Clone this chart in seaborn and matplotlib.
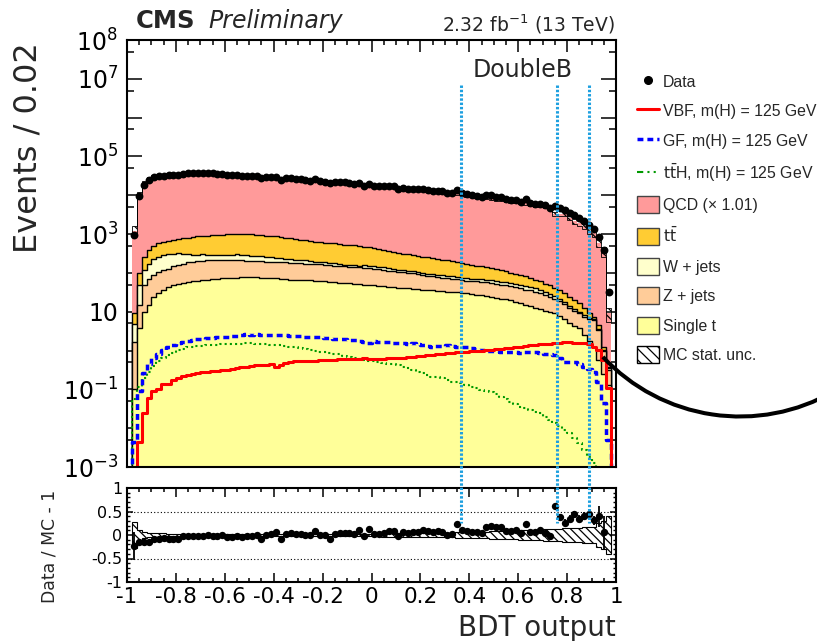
import numpy as np
import pandas as pd
import matplotlib
matplotlib.use("Agg")
import matplotlib.pyplot as plt
import matplotlib.transforms as mtransforms
from matplotlib.lines import Line2D
from matplotlib.patches import Patch, Arc
from matplotlib.ticker import FixedLocator, FixedFormatter, MultipleLocator, NullFormatter, FuncFormatter
import seaborn as sns

nan = np.nan

# ---------------- data ----------------
# binning of the BDT output: 100 bins of width 0.02 in [-1, 1]
n_bins = 100
bdt_range = (-1.0, 1.0)
bin_edges = np.round(np.linspace(bdt_range[0], bdt_range[1], n_bins + 1), 3)

# log10 of the top of each stacked layer (Single t at bottom, QCD on top = total MC)
log_top_qcd = [nan, 3.09, 4.05, 4.33, 4.46, 4.50, 4.52, 4.54, 4.55, 4.56,
               4.57, 4.57, 4.58, 4.58, 4.58, 4.57, 4.57, 4.57, 4.56, 4.56,
               4.55, 4.54, 4.53, 4.52, 4.51, 4.50, 4.49, 4.48, 4.47, 4.46,
               4.45, 4.44, 4.43, 4.42, 4.41, 4.40, 4.39, 4.38, 4.37, 4.36,
               4.35, 4.34, 4.33, 4.32, 4.31, 4.30, 4.29, 4.27, 4.26, 4.24,
               4.23, 4.22, 4.21, 4.20, 4.19, 4.17, 4.16, 4.15, 4.14, 4.13,
               4.12, 4.11, 4.09, 4.08, 4.07, 4.06, 4.05, 4.03, 4.01, 3.99,
               3.98, 3.96, 3.95, 3.93, 3.92, 3.90, 3.89, 3.87, 3.85, 3.83,
               3.82, 3.80, 3.78, 3.76, 3.74, 3.72, 3.69, 3.52, 3.53, 3.52,
               3.42, 3.33, 3.29, 3.20, 3.08, 3.02, 2.78, 2.56, 0.96, nan]
log_top_tt = [nan, 0.96, 1.99, 2.42, 2.59, 2.69, 2.76, 2.79, 2.82, 2.85,
              2.87, 2.89, 2.91, 2.92, 2.94, 2.95, 2.96, 2.97, 2.98, 2.98,
              2.99, 2.99, 3.00, 3.00, 2.99, 2.99, 2.98, 2.97, 2.96, 2.95,
              2.94, 2.92, 2.91, 2.89, 2.88, 2.86, 2.84, 2.82, 2.80, 2.79,
              2.78, 2.77, 2.76, 2.75, 2.73, 2.72, 2.71, 2.69, 2.68, 2.66,
              2.64, 2.62, 2.60, 2.57, 2.55, 2.52, 2.50, 2.48, 2.46, 2.44,
              2.42, 2.40, 2.38, 2.36, 2.34, 2.32, 2.30, 2.28, 2.26, 2.23,
              2.21, 2.19, 2.17, 2.15, 2.12, 2.10, 2.07, 2.04, 2.01, 1.98,
              1.95, 1.91, 1.87, 1.82, 1.78, 1.72, 1.68, 1.62, 1.55, 1.47,
              1.39, 1.30, 1.22, 1.09, 0.98, 0.87, 0.66, 0.10, -0.42, nan]
log_top_w = [nan, 0.68, 1.69, 2.08, 2.24, 2.36, 2.42, 2.45, 2.48, 2.50,
             2.51, 2.50, 2.49, 2.47, 2.47, 2.48, 2.46, 2.47, 2.46, 2.47,
             2.46, 2.47, 2.48, 2.47, 2.47, 2.44, 2.43, 2.43, 2.41, 2.40,
             2.39, 2.38, 2.36, 2.35, 2.34, 2.33, 2.32, 2.30, 2.29, 2.28,
             2.27, 2.26, 2.25, 2.23, 2.21, 2.20, 2.20, 2.19, 2.20, 2.19,
             2.17, 2.15, 2.14, 2.12, 2.10, 2.08, 2.07, 2.05, 2.04, 2.02,
             2.00, 1.98, 1.96, 1.95, 1.94, 1.93, 1.91, 1.90, 1.88, 1.86,
             1.85, 1.84, 1.84, 1.83, 1.81, 1.79, 1.77, 1.76, 1.73, 1.71,
             1.69, 1.66, 1.63, 1.60, 1.56, 1.51, 1.45, 1.40, 1.33, 1.25,
             1.15, 1.08, 1.00, 0.92, 0.85, 0.80, 0.55, 0.02, -0.46, nan]
log_top_z = [nan, 0.23, 1.17, 1.69, 1.85, 1.94, 2.02, 2.07, 2.11, 2.17,
             2.21, 2.24, 2.27, 2.29, 2.30, 2.31, 2.32, 2.32, 2.33, 2.33,
             2.33, 2.33, 2.32, 2.32, 2.31, 2.31, 2.30, 2.30, 2.29, 2.29,
             2.29, 2.28, 2.27, 2.26, 2.25, 2.25, 2.24, 2.23, 2.22, 2.22,
             2.21, 2.20, 2.19, 2.18, 2.17, 2.16, 2.15, 2.14, 2.13, 2.12,
             2.10, 2.09, 2.08, 2.06, 2.05, 2.03, 2.02, 2.00, 1.99, 1.97,
             1.95, 1.93, 1.91, 1.90, 1.88, 1.87, 1.85, 1.84, 1.82, 1.80,
             1.79, 1.78, 1.77, 1.76, 1.74, 1.72, 1.70, 1.68, 1.66, 1.63,
             1.60, 1.57, 1.55, 1.52, 1.47, 1.42, 1.38, 1.33, 1.28, 1.20,
             1.09, 1.03, 0.96, 0.87, 0.82, 0.78, 0.52, 0.00, -0.50, nan]
log_top_single_t = [nan, -0.99, 0.58, 1.00, 1.17, 1.39, 1.48, 1.56, 1.63, 1.68,
                    1.72, 1.74, 1.76, 1.78, 1.80, 1.82, 1.83, 1.84, 1.85, 1.86,
                    1.87, 1.88, 1.88, 1.89, 1.89, 1.89, 1.89, 1.88, 1.88, 1.87,
                    1.86, 1.85, 1.84, 1.83, 1.82, 1.82, 1.81, 1.81, 1.80, 1.79,
                    1.78, 1.77, 1.76, 1.75, 1.74, 1.73, 1.72, 1.71, 1.70, 1.69,
                    1.68, 1.67, 1.66, 1.64, 1.63, 1.62, 1.61, 1.60, 1.59, 1.58,
                    1.57, 1.56, 1.56, 1.54, 1.53, 1.52, 1.51, 1.50, 1.48, 1.47,
                    1.45, 1.44, 1.42, 1.40, 1.38, 1.36, 1.34, 1.32, 1.29, 1.26,
                    1.22, 1.18, 1.14, 1.09, 1.06, 1.03, 1.00, 0.96, 0.90, 0.80,
                    0.70, 0.64, 0.58, 0.40, 0.25, 0.10, -0.24, -0.60, -0.90, nan]

# signal shapes (log10 of events per bin)
log_vbf = [nan, nan, -2.35, -1.62, -1.23, -1.05, -0.98, -0.85, -0.85, -0.75,
           -0.72, -0.66, -0.64, -0.60, -0.58, -0.56, -0.55, -0.53, -0.52, -0.50,
           -0.50, -0.48, -0.45, -0.42, -0.42, -0.40, -0.38, -0.37, -0.36, -0.35,
           -0.42, -0.36, -0.33, -0.30, -0.27, -0.28, -0.26, -0.27, -0.26, -0.25,
           -0.25, -0.24, -0.24, -0.23, -0.23, -0.22, -0.22, -0.21, -0.20, -0.23,
           -0.22, -0.21, -0.21, -0.20, -0.20, -0.19, -0.18, -0.17, -0.16, -0.15,
           -0.14, -0.12, -0.11, -0.10, -0.08, -0.07, -0.06, -0.05, -0.04, -0.03,
           -0.02, -0.01, 0.00, 0.01, 0.02, 0.03, 0.05, 0.06, 0.07, 0.08,
           0.10, 0.12, 0.13, 0.15, 0.16, 0.17, 0.18, 0.20, 0.20, 0.21,
           0.21, 0.20, 0.20, 0.20, 0.17, 0.10, 0.01, -0.24, -0.97, nan]
log_gf = [nan, -2.35, -1.05, -0.59, -0.35, -0.20, -0.09, 0.01, 0.08, 0.14,
          0.19, 0.22, 0.24, 0.27, 0.29, 0.31, 0.32, 0.33, 0.34, 0.35,
          0.36, 0.37, 0.38, 0.39, 0.42, 0.41, 0.42, 0.41, 0.41, 0.40,
          0.40, 0.40, 0.39, 0.38, 0.37, 0.37, 0.36, 0.35, 0.34, 0.34,
          0.33, 0.33, 0.31, 0.30, 0.29, 0.27, 0.26, 0.24, 0.23, 0.19,
          0.24, 0.22, 0.22, 0.21, 0.20, 0.19, 0.19, 0.18, 0.19, 0.16,
          0.14, 0.12, 0.10, 0.11, 0.12, 0.13, 0.11, 0.09, 0.08, 0.08,
          0.06, 0.04, 0.02, 0.00, -0.01, -0.02, -0.03, -0.04, -0.05, -0.05,
          -0.06, -0.05, -0.04, -0.05, -0.06, -0.08, -0.10, -0.11, -0.20, -0.29,
          -0.29, -0.30, -0.35, -0.42, -0.48, -0.54, -0.80, -1.35, -2.30, nan]
log_tth = [nan, -1.25, -0.93, -0.71, -0.54, -0.40, -0.28, -0.20, -0.11, -0.06,
           0.01, 0.04, 0.08, 0.09, 0.11, 0.12, 0.13, 0.14, 0.15, 0.16,
           0.16, 0.17, 0.18, 0.18, 0.19, 0.19, 0.18, 0.17, 0.16, 0.15,
           0.14, 0.14, 0.12, 0.10, 0.08, 0.06, 0.04, 0.02, -0.01, -0.03,
           -0.04, -0.06, -0.08, -0.10, -0.13, -0.16, -0.18, -0.21, -0.24, -0.26,
           -0.28, -0.30, -0.32, -0.34, -0.35, -0.37, -0.42, -0.46, -0.50, -0.54,
           -0.58, -0.62, -0.67, -0.69, -0.71, -0.76, -0.80, -0.82, -0.84, -0.89,
           -0.93, -0.97, -1.02, -1.05, -1.08, -1.12, -1.19, -1.26, -1.32, -1.38,
           -1.45, -1.49, -1.53, -1.58, -1.62, -1.70, -1.78, -1.87, -1.95, -2.05,
           -2.13, -2.26, -2.39, -2.55, -2.73, -2.90, -3.05, -3.05, -3.05, nan]

# Data / MC - 1 per bin and its error bar
ratio = [nan, -0.24, -0.15, -0.14, -0.15, -0.08, -0.08, -0.07, -0.08, -0.09,
         -0.09, -0.03, -0.02, -0.02, -0.03, -0.02, -0.01, -0.02, -0.02, -0.01,
         -0.04, -0.04, -0.03, -0.04, -0.02, -0.03, -0.01, -0.09, 0.01, 0.03,
         0.06, -0.08, 0.03, 0.04, 0.03, 0.02, 0.01, 0.00, 0.09, 0.01,
         0.00, -0.08, 0.03, 0.04, 0.05, 0.04, 0.02, 0.11, -0.02, 0.13,
         0.03, 0.02, 0.04, 0.09, 0.09, -0.03, 0.06, 0.05, 0.06, 0.06,
         0.11, 0.08, 0.07, 0.08, 0.07, 0.01, 0.02, 0.24, 0.10, 0.09,
         0.07, 0.06, 0.04, 0.18, 0.20, 0.16, 0.16, 0.08, 0.09, 0.10,
         0.04, 0.24, 0.06, 0.06, 0.11, 0.04, -0.03, 0.61, 0.38, 0.26,
         0.35, 0.44, 0.35, 0.40, 0.45, 0.31, 0.40, 0.06, 2.60, nan]
ratio_err = [0, 0.30, 0.03, 0.02, 0.02, 0.01, 0.01, 0.01, 0.01, 0.01,
             0.01, 0.01, 0.01, 0.01, 0.01, 0.01, 0.01, 0.01, 0.01, 0.01,
             0.01, 0.01, 0.01, 0.01, 0.01, 0.01, 0.01, 0.01, 0.01, 0.01,
             0.01, 0.01, 0.01, 0.01, 0.01, 0.01, 0.01, 0.01, 0.01, 0.01,
             0.01, 0.01, 0.01, 0.01, 0.01, 0.01, 0.01, 0.01, 0.01, 0.01,
             0.01, 0.01, 0.01, 0.01, 0.01, 0.01, 0.01, 0.01, 0.01, 0.01,
             0.01, 0.01, 0.01, 0.01, 0.01, 0.01, 0.01, 0.02, 0.02, 0.02,
             0.02, 0.02, 0.02, 0.02, 0.02, 0.02, 0.02, 0.02, 0.02, 0.02,
             0.03, 0.03, 0.03, 0.03, 0.03, 0.03, 0.04, 0.05, 0.07, 0.07,
             0.07, 0.07, 0.08, 0.08, 0.08, 0.10, 0.22, 0.35, 0.50, 0]
# relative MC statistical uncertainty per bin
mc_stat_rel = [0, 0.28, 0.10, 0.06, 0.05, 0.04, 0.035, 0.035, 0.03, 0.03,
               0.025, 0.025, 0.025, 0.025, 0.025, 0.025, 0.025, 0.025, 0.025, 0.025,
               0.025, 0.025, 0.025, 0.025, 0.025, 0.025, 0.025, 0.025, 0.025, 0.025,
               0.03, 0.03, 0.03, 0.03, 0.03, 0.03, 0.03, 0.03, 0.03, 0.03,
               0.03, 0.03, 0.03, 0.03, 0.03, 0.03, 0.03, 0.03, 0.03, 0.03,
               0.03, 0.03, 0.035, 0.035, 0.035, 0.035, 0.035, 0.035, 0.04, 0.04,
               0.04, 0.04, 0.045, 0.045, 0.05, 0.05, 0.05, 0.055, 0.055, 0.06,
               0.06, 0.065, 0.07, 0.07, 0.075, 0.08, 0.08, 0.085, 0.09, 0.09,
               0.10, 0.10, 0.10, 0.11, 0.11, 0.12, 0.12, 0.13, 0.13, 0.14,
               0.14, 0.15, 0.15, 0.16, 0.17, 0.18, 0.25, 0.30, 0.40, 0]

cut_values = [0.365, 0.76, 0.89]

legend_labels = ["Data", "VBF, m(H) = 125 GeV", "GF, m(H) = 125 GeV",
                 r"$\mathrm{t\bar{t}}$H, m(H) = 125 GeV", "QCD (\u00d7 1.01)",
                 r"$\mathrm{t\bar{t}}$", "W + jets", "Z + jets", "Single t", "MC stat. unc."]

# ---------------- derived quantities ----------------
def lin(a):
    return np.nan_to_num(10.0 ** np.asarray(a, dtype=float), nan=0.0)

single_t = lin(log_top_single_t)
z_jets = lin(log_top_z) - lin(log_top_single_t)
w_jets = lin(log_top_w) - lin(log_top_z)
ttbar = lin(log_top_tt) - lin(log_top_w)
qcd = lin(log_top_qcd) - lin(log_top_tt)
stack = np.cumsum(np.vstack([single_t, z_jets, w_jets, ttbar, qcd]), axis=0)
mc_total = stack[-1]

vbf = lin(log_vbf)
gf = lin(log_gf)
tth = lin(log_tth)

ratio_arr = np.asarray(ratio, dtype=float)
data = mc_total * (1.0 + ratio_arr)
rel = np.asarray(mc_stat_rel, dtype=float)
centers = 0.5 * (bin_edges[:-1] + bin_edges[1:])

# ---------------- style ----------------
sns.set_style("ticks")
plt.rcParams["font.family"] = ["DejaVu Sans"]
plt.rcParams["axes.unicode_minus"] = False
plt.rcParams["hatch.linewidth"] = 0.9
plt.rcParams["axes.edgecolor"] = "black"

c_qcd = "#ff9a9a"
c_tt = "#ffcc33"
c_w = "#ffffcc"
c_z = "#ffcc99"
c_st = "#ffff99"
c_vbf = "#ff0000"
c_gf = "#0000ff"
c_tth = "#009900"
c_cut = "#1ea0e0"

W, H = 817.0, 641.0
fig = plt.figure(figsize=(W / 100, H / 100), dpi=100)
ax = fig.add_axes([127 / W, 1 - 467 / H, 489 / W, 427 / H])
axr = fig.add_axes([127 / W, 1 - 582 / H, 489 / W, 94 / H])

ax.set_yscale("log")


def step_hist(vals, **kws):
    df = pd.DataFrame({"bdt": centers, "events": vals})
    sns.histplot(data=df, x="bdt", weights="events", bins=n_bins, binrange=bdt_range,
                 element="step", ax=ax, **kws)


# stacked backgrounds (drawn from the total down to the bottom layer)
layers = [(stack[4], c_qcd, 0.0), (stack[3], c_tt, 1.0), (stack[2], c_w, 1.0),
          (stack[1], c_z, 1.0), (stack[0], c_st, 1.0)]
for vals, col, lw in layers:
    step_hist(vals, fill=True, color=col, alpha=1.0, edgecolor="black", linewidth=lw)

# MC stat band on the total
sl = slice(1, 99)
ax.stairs(mc_total[sl] * (1 + rel[sl]), bin_edges[1:100], baseline=mc_total[sl] * (1 - rel[sl]),
          fill=True, facecolor="none", edgecolor="black", hatch="\\\\\\\\", linewidth=0.6, zorder=3)

# signals
step_hist(tth, fill=False, color=c_tth, linewidth=1.5, linestyle=(0, (1, 1.5)))
step_hist(gf, fill=False, color=c_gf, linewidth=2.5, linestyle=(0, (1.7, 1.15)))
step_hist(vbf, fill=False, color=c_vbf, linewidth=2.2)

# data
sns.scatterplot(x=centers, y=data, color="black", s=32, linewidth=0, ax=ax, zorder=6)

ax.set_xlim(-1, 1)
ax.set_ylim(1e-3, 1e8)
ax.set_xlabel("")
ax.set_ylabel("")

exps = np.arange(-3, 9)
ylabels = {-3: r"$10^{-3}$", -1: r"$10^{-1}$", 1: "10", 3: r"$10^{3}$",
           5: r"$10^{5}$", 7: r"$10^{7}$", 8: r"$10^{8}$"}
ax.yaxis.set_major_locator(FixedLocator(10.0 ** exps))
ax.yaxis.set_major_formatter(FixedFormatter([ylabels.get(int(e), "") for e in exps]))
ax.yaxis.set_minor_locator(FixedLocator(5 * 10.0 ** np.arange(-3, 8)))
ax.yaxis.set_minor_formatter(NullFormatter())
ax.xaxis.set_major_locator(MultipleLocator(0.2))
ax.xaxis.set_minor_locator(MultipleLocator(0.05))
ax.tick_params(axis="both", which="both", direction="in", top=True, right=True,
               labelbottom=False, colors="black")
ax.tick_params(axis="y", which="major", length=10.8, width=1.1, pad=6.5, labelsize=17)
ax.tick_params(axis="y", which="minor", length=5, width=1.1)
ax.tick_params(axis="x", which="major", length=8.6, width=1.1)
ax.tick_params(axis="x", which="minor", length=3.6, width=1.1)

# ratio panel
axr.stairs(rel[sl], bin_edges[1:100], baseline=-rel[sl], fill=True, facecolor="none",
           edgecolor="black", hatch="\\\\\\\\", linewidth=0.8, zorder=2)
axr.axhline(0.5, color="black", linestyle=(0, (1, 2)), linewidth=0.8)
axr.axhline(-0.5, color="black", linestyle=(0, (1, 2)), linewidth=0.8)
axr.errorbar(centers, ratio_arr, yerr=np.asarray(ratio_err, dtype=float), fmt="none",
             ecolor="black", elinewidth=1.3, capsize=0, zorder=4)
sns.scatterplot(x=centers, y=ratio_arr, color="black", s=28, linewidth=0, ax=axr, zorder=5)
axr.set_xlim(-1, 1)
axr.set_ylim(-1, 1)
axr.set_xlabel("")
axr.set_ylabel("")


def fmt(v, pos):
    v = round(v, 2)
    if abs(v) < 1e-9:
        return "0"
    return f"{v:g}"


axr.xaxis.set_major_locator(MultipleLocator(0.2))
axr.xaxis.set_minor_locator(MultipleLocator(0.05))
axr.xaxis.set_major_formatter(FuncFormatter(fmt))
axr.yaxis.set_major_locator(MultipleLocator(0.5))
axr.yaxis.set_minor_locator(MultipleLocator(0.1))
axr.yaxis.set_major_formatter(FuncFormatter(fmt))
axr.tick_params(axis="both", which="both", direction="in", top=True, right=True, colors="black")
axr.tick_params(axis="x", which="major", length=6.5, width=1.1, pad=3.6, labelsize=15.5)
axr.tick_params(axis="x", which="minor", length=3, width=1.1)
axr.tick_params(axis="y", which="major", length=4.3, width=1.1, pad=3.6, labelsize=11.5)
axr.tick_params(axis="y", which="minor", length=2.2, width=1.0)

for a in (ax, axr):
    for sp in a.spines.values():
        sp.set_linewidth(1.5)
        sp.set_color("black")
        sp.set_visible(True)

# texts
fig.text(136 / W, 1 - 28.3 / H, "CMS", fontweight="bold", fontsize=17.5, va="baseline", ha="left")
fig.text(208 / W, 1 - 28.3 / H, "Preliminary", fontstyle="italic", fontsize=17, va="baseline", ha="left")
fig.text(615 / W, 1 - 31.7 / H, r"2.32 fb$^{-1}$ (13 TeV)", fontsize=13.5, va="baseline", ha="right")
fig.text(523 / W, 1 - 76.7 / H, "DoubleB", fontsize=17, va="baseline", ha="center")
fig.text(28 / W, 1 - 147.5 / H, "Events / 0.02", rotation=90, fontsize=23, ha="center", va="center")
fig.text(49 / W, 1 - 546 / H, "Data / MC - 1", rotation=90, fontsize=12.4, ha="center", va="center")
fig.text(616 / W, 1 - 636 / H, "BDT output", fontsize=20, ha="right", va="baseline")

# category boundaries (dotted cyan lines spanning both panels)
blend = mtransforms.blended_transform_factory(ax.transData, fig.transFigure)
for xv in cut_values:
    fig.add_artist(Line2D([xv, xv], [1 - 85 / H, 1 - 523 / H], transform=blend,
                          color=c_cut, linewidth=2.2, linestyle=(0, (0.8, 0.6)), zorder=10))

# thick black arc seen on the right
fig.add_artist(Arc((7.40, 4.12), 3.75, 3.75, theta1=223, theta2=300,
                   transform=fig.dpi_scale_trans, color="black", linewidth=2.9, zorder=11))

# legend
handles = [
    Line2D([], [], marker="o", color="black", linestyle="none", markersize=5.5),
    Line2D([], [], color=c_vbf, linewidth=2.2),
    Line2D([], [], color=c_gf, linewidth=2.5, linestyle=(0, (1.7, 1.15))),
    Line2D([], [], color=c_tth, linewidth=1.5, linestyle=(0, (3, 2, 1, 2, 1, 2))),
    Patch(facecolor=c_qcd, edgecolor="#444444", linewidth=1),
    Patch(facecolor=c_tt, edgecolor="#444444", linewidth=1),
    Patch(facecolor=c_w, edgecolor="#444444", linewidth=1),
    Patch(facecolor=c_z, edgecolor="#444444", linewidth=1),
    Patch(facecolor=c_st, edgecolor="#444444", linewidth=1),
    Patch(facecolor="white", edgecolor="black", hatch="\\\\\\", linewidth=1),
]
fig.legend(handles, legend_labels, loc="upper left", bbox_to_anchor=(637 / W, 1 - 73 / H),
           bbox_transform=fig.transFigure, frameon=False,
           prop={"family": "Liberation Sans", "size": 11.4},
           handlelength=1.39, handleheight=1.26, handletextpad=0.24, labelspacing=0.80,
           borderpad=0, borderaxespad=0)

fig.savefig("out.png", dpi=100)
